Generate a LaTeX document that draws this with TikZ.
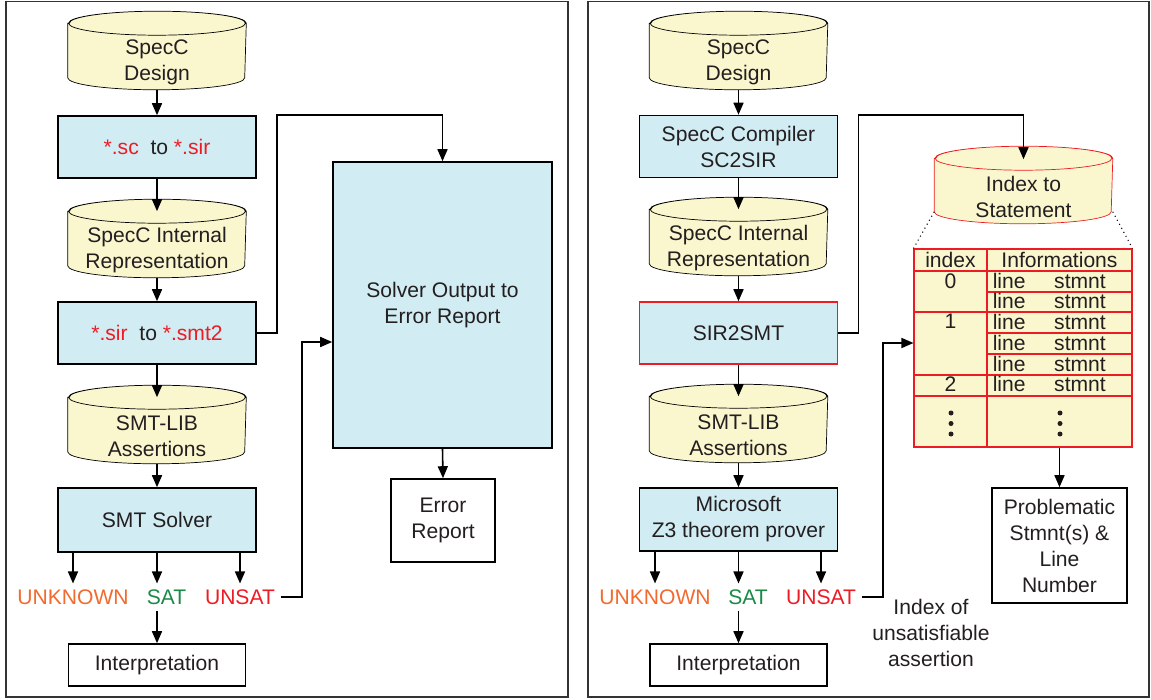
\documentclass[tikz,border=0pt]{standalone}
\usepackage{fontspec}
\setmainfont{Liberation Sans}
\usetikzlibrary{arrows.meta,backgrounds}

\definecolor{giallo}{HTML}{FAF7CF}
\definecolor{azzurro}{HTML}{D1ECF2}
\definecolor{rosso}{HTML}{ED1C24}
\definecolor{arancio}{HTML}{F26A2E}
\definecolor{verde}{HTML}{1B8A47}
\definecolor{testo}{HTML}{231F20}

\tikzset{
	archivio/.style={minimum width=3.54cm, minimum height=1.06cm, align=center, inner sep=1pt},
	blocco/.style={draw, fill=azzurro, minimum width=3.96cm, minimum height=1.24cm, align=center},
	uscita/.style={draw, minimum width=3.54cm, minimum height=0.84cm, align=center},
	esito/.style={inner sep=3pt},
	riquadro/.style={draw=black!80, line width=0.8pt},
	cella/.style={inner sep=0pt, anchor=base},
}

\begin{document}
\begin{tikzpicture}[font=\fontsize{12}{14.8}\selectfont, text=testo, line width=0.9pt, >={Triangle[length=2.4mm,width=2mm]}]
		
		\useasboundingbox (0,0) rectangle (23.02,-14);
		
		%Riquadri esterni
		\draw[riquadro] (0.12,-0.03) rectangle (11.36,-13.94);
		\draw[riquadro] (11.76,-0.03) rectangle (22.98,-13.94);
		
		%Nodi del primo schema
		\node (design1) at (3.14,-1.25) [archivio]{SpecC\\Design};
		
		\node (conv1) at (3.14,-2.94) [blocco]{\textcolor{rosso}{*.sc}\ \ to \textcolor{rosso}{*.sir}};
		
		\node (sir1) at (3.14,-5.01) [archivio]{SpecC Internal\\Representation};
		
		\node (smt1) at (3.14,-6.66) [blocco]{\textcolor{rosso}{*.sir}\ \ to \textcolor{rosso}{*.smt2}};
		
		\node (lib1) at (3.14,-8.73) [archivio]{SMT-LIB\\Assertions};
		
		\node (solver1) at (3.14,-10.40) [blocco, minimum height=1.28cm]{SMT Solver};
		
		\node (unknown1) at (1.46,-11.94) [esito, text=arancio]{UNKNOWN};
		\node (sat1) at (3.33,-11.94) [esito, text=verde]{SAT};
		\node (unsat1) at (4.80,-11.94) [esito, text=rosso]{UNSAT};
		
		\node (interp1) at (3.14,-13.30) [uscita]{Interpretation};
		
		\node (report1) at (8.85,-6.10) [blocco, minimum width=4.38cm, minimum height=5.72cm]{Solver Output to\\Error Report};
		
		\node (err1) at (8.86,-10.41) [draw, minimum width=2.08cm, minimum height=1.66cm, align=center]{Error\\Report};
		
		%Collegamenti del primo schema
		\draw[->] (design1.south) -- (conv1.north);
		\draw[->] (conv1.south) -- ([yshift=2.4mm]sir1.north);
		\draw[->] (sir1.south) -- (smt1.north);
		\draw[->] (smt1.south) -- ([yshift=2.4mm]lib1.north);
		\draw[->] (lib1.south) -- (solver1.north);
		
		\draw[->] (solver1.south -| unknown1) -- (unknown1.north);
		\draw[->] (solver1.south) -- (solver1.south |- sat1.north);
		\draw[->] (solver1.south -| unsat1) -- (unsat1.north);
		\draw[->] (solver1.south |- sat1.south) -- (interp1.north);
		
		\draw[->] (smt1.east) -- ++(0.4,0) |- (conv1.north -| report1.north) -- (report1.north);
		\draw[->] (unsat1.east) -- ++(0.42,0) |- ([yshift=-0.74cm]report1.west);
		\draw[->] (report1.south) -- (err1.north);
		
		
		%Nodi del secondo schema
		\node (design2) at (14.77,-1.25) [archivio]{SpecC\\Design};
		
		\node (comp2) at (14.77,-2.93) [blocco]{SpecC Compiler\\SC2SIR};
		
		\node (sir2) at (14.77,-4.97) [archivio]{SpecC Internal\\Representation};
		
		\node (trad2) at (14.77,-6.66) [blocco, draw=rosso]{SIR2SMT};
		
		\node (lib2) at (14.77,-8.71) [archivio]{SMT-LIB\\Assertions};
		
		\node (z3) at (14.77,-10.39) [blocco, minimum height=1.26cm]{Microsoft\\Z3 theorem prover};
		
		\node (unknown2) at (13.10,-11.94) [esito, text=arancio]{UNKNOWN};
		\node (sat2) at (14.96,-11.94) [esito, text=verde]{SAT};
		\node (unsat2) at (16.42,-11.94) [esito, text=rosso]{UNSAT};
		
		\node (interp2) at (14.77,-13.30) [uscita]{Interpretation};
		
		\node (nota2) at (18.62,-12.66) [align=center]{Index of\\unsatisfiable\\assertion};
		
		\node (idx) at (20.47,-3.94) [archivio, minimum height=1.04cm]{Index to\\Statement};
		
		\node (tabella) at (20.46,-6.96) [draw=rosso, fill=giallo, line width=0.6pt, minimum width=4.36cm, minimum height=3.96cm, inner sep=0pt]{};
		
		\node (prob2) at (21.19,-10.91) [draw, minimum width=2.70cm, minimum height=2.30cm, align=center]{Problematic\\Stmnt(s) \&\\Line\\Number};
		
		%Cilindri sullo sfondo
		\begin{scope}[on background layer]
			\foreach \n/\c in {design1/black, sir1/black, lib1/black, design2/black, sir2/black, lib2/black, idx/rosso}
				\filldraw[fill=giallo, draw=\c] ([yshift=2.4mm]\n.north west) -- ([yshift=2.4mm]\n.south west)
					arc[start angle=180, end angle=360, x radius=17.7mm, y radius=2.4mm]
					-- ([yshift=2.4mm]\n.north east)
					arc[start angle=0, end angle=180, x radius=17.7mm, y radius=2.4mm] -- cycle
					([yshift=2.4mm]\n.north) ellipse [x radius=17.7mm, y radius=2.4mm];
		\end{scope}
		
		%Righe della tabella
		\draw[rosso, line width=0.6pt] (19.74,-4.98) -- (19.74,-8.94);
		\foreach \y in {-5.42,-6.24,-7.50,-7.92}
			\draw[rosso, line width=0.6pt] (18.28,\y) -- (22.64,\y);
		\foreach \y in {-5.84,-6.66,-7.08}
			\draw[rosso, line width=0.6pt] (19.74,\y) -- (22.64,\y);
		
		%Testi della tabella
		\node (hIndex) at (19.01,-5.34) [cella]{index};
		\node (hInfo) at (21.19,-5.34) [cella]{Informations};
		\node (k0) at (19.01,-5.76) [cella]{0};
		\node (k1) at (19.01,-6.57) [cella]{1};
		\node (k2) at (19.01,-7.83) [cella]{2};
		\foreach \y [count=\k] in {-5.76,-6.17,-6.58,-7.00,-7.42,-7.83}{
			\node (riga\k) at (19.84,\y) [cella, anchor=base west]{line};
			\node (stmnt\k) at (21.60,\y) [cella]{stmnt};
		}
		\foreach \y in {-8.26,-8.47,-8.68}{
			\fill[testo] (19.02,\y) circle (0.05);
			\fill[testo] (21.20,\y) circle (0.05);
		}
		
		%Collegamenti del secondo schema
		\draw[->] (design2.south) -- (comp2.north);
		\draw[->] (comp2.south) -- ([yshift=2.4mm]sir2.north);
		\draw[->] (sir2.south) -- (trad2.north);
		\draw[->] (trad2.south) -- ([yshift=2.4mm]lib2.north);
		\draw[->] (lib2.south) -- (z3.north);
		
		\draw[->] (z3.south -| unknown2) -- (unknown2.north);
		\draw[->] (z3.south) -- (z3.south |- sat2.north);
		\draw[->] (z3.south -| unsat2) -- (unsat2.north);
		\draw[->] (z3.south |- sat2.south) -- (interp2.north);
		
		\draw[->] (trad2.east) -- ++(0.4,0) |- (comp2.north -| idx.north) -- ([yshift=2.2mm]idx.north);
		\draw[->] (unsat2.east) -- ++(0.42,0) |- ([yshift=0.1cm]tabella.west);
		\draw[->] (tabella.south -| prob2.north) -- (prob2.north);
		
		\draw[dotted, line width=0.6pt] ([yshift=2.4mm]idx.south west) -- (tabella.north west);
		\draw[dotted, line width=0.6pt] ([yshift=2.4mm]idx.south east) -- (tabella.north east);
		
\end{tikzpicture}
\end{document}
